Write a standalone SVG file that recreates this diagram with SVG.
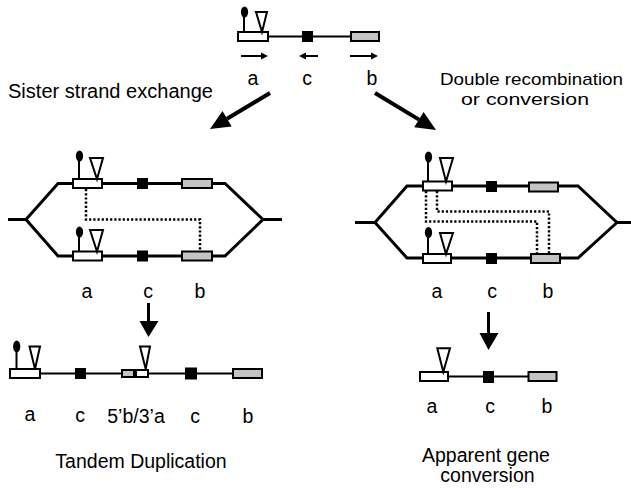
<svg xmlns="http://www.w3.org/2000/svg" width="631" height="489" viewBox="0 0 631 489">
<defs>
<style>
text{font-family:"Liberation Sans",Arial,Helvetica,sans-serif;font-size:19.5px;fill:#000}
.m{text-anchor:middle}
.sm{font-size:17px}
.ln{stroke:#000;stroke-width:2;fill:none}
.th{stroke:#000;stroke-width:3;fill:none;stroke-linejoin:miter}
.ba{fill:#fff;stroke:#000;stroke-width:2}
.bb{fill:#c4c4c4;stroke:#000;stroke-width:2}
.bc{fill:#000}
.tri{fill:#fff;stroke:#000;stroke-width:2;stroke-linejoin:miter}
.dot{stroke:#000;stroke-width:2.5;fill:none;stroke-dasharray:2.2 2}
.ar{stroke:#000;stroke-width:4}
.sa{stroke:#000;stroke-width:3}
</style>
</defs>

<g id="top-gene">
<line class="ln" x1="268" y1="36.5" x2="351" y2="36.5"/>
<rect class="ba" x="238" y="32" width="30" height="9"/>
<rect class="bc" x="302" y="31" width="11" height="11"/>
<rect class="bb" x="351" y="32" width="28" height="9"/>
<line class="ln" x1="244" y1="17" x2="244" y2="32"/>
<ellipse cx="244.5" cy="12" rx="3.6" ry="5.5"/>
<polygon class="tri" points="256,12 267,12 262,32"/>
<line class="ln" x1="241" y1="56" x2="262" y2="56"/>
<polygon points="261,52.5 268,56 261,59.5"/>
<line class="ln" x1="318" y1="56" x2="305" y2="56"/>
<polygon points="306,52.5 299,56 306,59.5"/>
<line class="ln" x1="350" y1="56" x2="372" y2="56"/>
<polygon points="371,52.5 378,56 371,59.5"/>
<text class="m" x="253" y="85">a</text>
<text class="m" x="307" y="85">c</text>
<text class="m" x="372" y="85">b</text>
</g>

<g id="labels-top">
<text x="8" y="98" textLength="205" lengthAdjust="spacingAndGlyphs">Sister strand exchange</text>
<text class="sm" x="440" y="85" textLength="183" lengthAdjust="spacingAndGlyphs">Double recombination</text>
<text class="sm" x="461" y="105" textLength="128" lengthAdjust="spacingAndGlyphs">or conversion</text>
</g>

<g id="left-structure">
<path class="th" d="M8,219.5 H26 L58,183.5 H225 L263,219.5 H282 M26,219.5 L58,256 H225 L263,219.5"/>
<rect class="ba" x="73" y="179" width="29" height="9"/>
<rect class="bc" x="137" y="178" width="11" height="11"/>
<rect class="bb" x="182" y="179" width="30" height="9"/>
<rect class="ba" x="73" y="251.5" width="29" height="9"/>
<rect class="bc" x="137" y="250.5" width="11" height="11"/>
<rect class="bb" x="182" y="251.5" width="30" height="9"/>
<line class="ln" x1="79" y1="160" x2="79" y2="179"/>
<ellipse cx="79.5" cy="156" rx="3.6" ry="5.5"/>
<polygon class="tri" points="90,158 103,158 97,179"/>
<line class="ln" x1="79" y1="236" x2="79" y2="251.5"/>
<ellipse cx="79.5" cy="232" rx="3.6" ry="5.5"/>
<polygon class="tri" points="90,230 103,230 97,251.5"/>
<path class="dot" d="M86,189 V219.5 H200 V251.5"/>
<text class="m" x="87" y="297.5">a</text>
<text class="m" x="148" y="297.5">c</text>
<text class="m" x="200" y="297.5">b</text>
</g>

<g id="right-structure">
<path class="th" d="M355,222.5 H375 L407,186 H578 L617,222.5 H631 M375,222.5 L407,258 H578 L617,222.5"/>
<rect class="ba" x="423" y="181.5" width="29" height="9"/>
<rect class="bc" x="486" y="181" width="11" height="11"/>
<rect class="bb" x="529" y="182.5" width="29" height="9"/>
<rect class="ba" x="423" y="254" width="28" height="9"/>
<rect class="bc" x="486" y="253" width="11" height="11"/>
<rect class="bb" x="531" y="254" width="29" height="9"/>
<line class="ln" x1="428" y1="161" x2="428" y2="181.5"/>
<ellipse cx="428.5" cy="157" rx="3.6" ry="5.5"/>
<polygon class="tri" points="440,158 453,158 446,181.5"/>
<line class="ln" x1="428" y1="236" x2="428" y2="254"/>
<ellipse cx="428.5" cy="232.5" rx="3.6" ry="5.5"/>
<polygon class="tri" points="440,233 453,233 446,254"/>
<path class="dot" d="M426,191 V221.5 H537 V254"/>
<path class="dot" d="M437,191 V211.5 H549 V254"/>
<text class="m" x="437" y="297.5">a</text>
<text class="m" x="492" y="297.5">c</text>
<text class="m" x="548" y="297.5">b</text>
</g>

<g id="tandem-duplication">
<line class="ln" x1="40" y1="373.5" x2="233" y2="373.5"/>
<rect class="ba" x="10" y="369" width="30" height="9"/>
<line class="ln" x1="16.5" y1="351" x2="16.5" y2="369"/>
<ellipse cx="16.7" cy="346.5" rx="3.6" ry="6"/>
<polygon class="tri" points="29.5,346.5 40,346.5 35,369"/>
<rect class="bc" x="75" y="368" width="11" height="11"/>
<rect x="121" y="369" width="28" height="9" fill="#000"/>
<rect x="123" y="371" width="10" height="5" fill="#c4c4c4"/>
<rect x="137" y="371" width="10" height="5" fill="#fff"/>
<polygon class="tri" points="140,346.5 150,346.5 145.7,369"/>
<rect class="bc" x="185" y="367.5" width="12" height="12"/>
<rect class="bb" x="233" y="369" width="29" height="9"/>
<text class="m" x="30" y="421">a</text>
<text class="m" x="80" y="422">c</text>
<text class="m" x="136" y="423">5’b/3’a</text>
<text class="m" x="195" y="423">c</text>
<text class="m" x="248" y="423">b</text>
<text class="m" x="141" y="468">Tandem Duplication</text>
</g>

<g id="gene-conversion">
<line class="ln" x1="448" y1="376.5" x2="528" y2="376.5"/>
<rect class="ba" x="420" y="372" width="28" height="9"/>
<polygon class="tri" points="437.3,348.3 450,348.3 443.3,372"/>
<rect class="bc" x="483" y="371" width="11" height="12"/>
<rect class="bb" x="528.5" y="372" width="28" height="9"/>
<text class="m" x="432" y="413">a</text>
<text class="m" x="490" y="413">c</text>
<text class="m" x="547" y="413">b</text>
<text class="m" x="486" y="461.5">Apparent gene</text>
<text class="m" x="487.5" y="481.5">conversion</text>
</g>

<g id="connectors">
<line class="ar" x1="270" y1="93" x2="227" y2="118.7"/>
<polygon points="210,129 222.5,111 231.7,126.4"/>
<line class="ar" x1="375" y1="93" x2="419" y2="119.6"/>
<polygon points="436,130 414.2,127.3 423.6,111.9"/>
<line class="sa" x1="148.5" y1="303" x2="148.5" y2="322"/>
<polygon points="139.5,321 158.5,321 148.5,337"/>
<line class="sa" x1="488.5" y1="312" x2="488.5" y2="334"/>
<polygon points="479.5,333 498.5,333 488.5,350"/>
</g>
</svg>
